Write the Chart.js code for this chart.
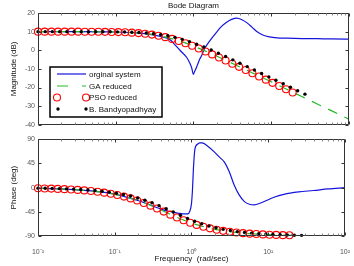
<!DOCTYPE html>
<html>
<head>
<meta charset="utf-8">
<script src="https://cdn.jsdelivr.net/npm/chart.js@4.4.1/dist/chart.umd.min.js"></script>
<style>
  body { margin: 0; background: #fff; }
  canvas { position: absolute; left: 0; }
  #mag { top: 0; }
  #phase { top: 132px; }
</style>
</head>
<body>
<canvas id="mag" width="354" height="132"></canvas>
<canvas id="phase" width="354" height="134"></canvas>
<script>
// original system
const origFreq  = [0.01, 0.03, 0.1, 0.2, 0.3, 0.4, 0.5, 0.6, 0.7, 0.82, 0.9, 0.95, 1.0, 1.03, 1.06, 1.11, 1.21, 1.28, 1.37, 1.63, 2.0, 2.3, 2.7, 3.1, 3.6, 4.2, 4.9, 5.7, 6.6, 7.8, 9.5, 11.9, 16, 25, 39, 60, 100];
const origMag   = [10.0, 10.0, 9.8, 9.2, 8.3, 7.1, 5.6, 2.2, -0.8, -3.9, -7.0, -9.5, -12.9, -11.6, -10.5, -8.5, -4.6, -2.7, 0.4, 5.2, 9.9, 12.8, 15.2, 16.6, 17.3, 16.4, 14.7, 12.3, 9.9, 8.2, 7.2, 6.7, 6.5, 6.3, 6.2, 6.1, 6.0];
const origPhase = [-1, -4, -12, -24, -33, -40, -44, -46, -48, -49, -49, -44, -30, -5, 35, 72, 81, 83, 83, 77, 66, 57, 47, 30, 5, -14, -26, -31, -32, -29, -24, -18, -12.6, -8, -5.4, -2.5, 0];

// GA reduced
const gaFreq  = [0.01, 0.0158, 0.0251, 0.0398, 0.0631, 0.1, 0.158, 0.251, 0.398, 0.631, 1, 1.585, 2.512, 3.981, 6.31, 10, 15.85, 25.12, 39.81, 63.1, 100];
const gaMag   = [10.0, 9.99, 9.99, 9.97, 9.91, 9.79, 9.49, 8.82, 7.49, 5.28, 2.26, -1.27, -5.07, -8.99, -12.96, -16.94, -20.94, -24.94, -28.94, -32.94, -36.94];
const gaPhase = [-1.3, -2.0, -3.2, -5.1, -8.0, -12.5, -19.4, -29.2, -41.5, -54.5, -65.8, -74.2, -79.8, -83.6, -85.9, -87.4, -88.4, -89.0, -89.4, -89.6, -89.7];

// PSO reduced
const psoFreq  = [0.0100, 0.0122, 0.0149, 0.0181, 0.0221, 0.0270, 0.0329, 0.0401, 0.0489, 0.0597, 0.0728, 0.0887, 0.108, 0.132, 0.161, 0.196, 0.239, 0.292, 0.356, 0.434, 0.530, 0.646, 0.788, 0.961, 1.17, 1.43, 1.74, 2.13, 2.59, 3.16, 3.86, 4.70, 5.74, 6.99, 8.53, 10.4, 12.7, 15.5, 18.9];
const psoMag   = [10.0, 10.0, 10.0, 9.99, 9.99, 9.98, 9.98, 9.96, 9.95, 9.92, 9.88, 9.83, 9.74, 9.63, 9.45, 9.21, 8.87, 8.41, 7.82, 7.05, 6.11, 5.01, 3.76, 2.39, 0.92, -0.63, -2.22, -3.86, -5.53, -7.21, -8.91, -10.61, -12.33, -14.05, -15.76, -17.48, -19.20, -20.93, -22.65];
const psoPhase = [-1.3, -1.6, -1.9, -2.4, -2.9, -3.5, -4.3, -5.2, -6.3, -7.7, -9.4, -11.4, -13.8, -16.7, -20.1, -24.0, -28.6, -33.6, -39.0, -44.6, -50.3, -55.7, -60.8, -65.4, -69.4, -72.9, -75.8, -78.3, -80.4, -82.1, -83.5, -84.7, -85.6, -86.4, -87.0, -87.6, -88.0, -88.4, -88.7];

// B. Bandyopadhyay
const bbFreq  = [0.0100, 0.0124, 0.0153, 0.0190, 0.0235, 0.0291, 0.0360, 0.0447, 0.0553, 0.0684, 0.0847, 0.105, 0.130, 0.161, 0.199, 0.247, 0.306, 0.378, 0.468, 0.579, 0.718, 0.889, 1.10, 1.36, 1.69, 2.09, 2.59, 3.21, 3.96, 4.91, 6.08, 7.53, 9.33, 11.5, 14.3, 17.7, 21.9, 27.2];
const bbMag   = [10.0, 10.0, 10.0, 10.0, 9.99, 9.99, 9.98, 9.97, 9.96, 9.94, 9.90, 9.85, 9.78, 9.67, 9.50, 9.26, 8.91, 8.42, 7.76, 6.92, 5.87, 4.64, 3.24, 1.73, 0.11, -1.59, -3.35, -5.14, -6.93, -8.76, -10.60, -12.45, -14.30, -16.13, -17.99, -19.85, -21.71, -23.56];
const bbPhase = [-1.0, -1.2, -1.5, -1.9, -2.4, -2.9, -3.6, -4.5, -5.5, -6.8, -8.5, -10.4, -12.8, -15.7, -19.3, -23.4, -28.2, -33.6, -39.4, -45.5, -51.5, -57.3, -62.6, -67.3, -71.3, -74.7, -77.6, -79.9, -81.8, -83.4, -84.6, -85.7, -86.5, -87.2, -87.7, -88.2, -88.5, -88.8];

const decades = [0.01, 0.1, 1, 10, 100];
const decadeLabels = ['10⁻²', '10⁻¹', '10⁰', '10¹', '10²'];

Chart.defaults.font.family = "'Liberation Sans', Arial, sans-serif";
Chart.defaults.animation = false;

const BLUE = 'rgb(20,20,220)';
const GREEN = 'rgb(40,185,40)';
const RED = 'rgb(255,0,0)';
const AXIS = '#333';
const LABEL = '#555';

function pts(xs, ys) {
  return xs.map((x, i) => ({ x: x, y: ys[i] }));
}

function datasets(which) {
  const m = which === 'mag';
  return [
    { label: 'orginal system', data: pts(origFreq, m ? origMag : origPhase), showLine: true, borderColor: BLUE,
      borderWidth: 1.2, pointRadius: 0, cubicInterpolationMode: 'monotone', order: 4 },
    { label: 'GA reduced', data: pts(gaFreq, m ? gaMag : gaPhase), showLine: true, borderColor: GREEN,
      borderWidth: 1.2, borderDash: [10, 8], pointRadius: 0, cubicInterpolationMode: 'monotone', order: 3 },
    { label: 'PSO reduced', data: pts(psoFreq, m ? psoMag : psoPhase), showLine: false, pointRadius: 3.5,
      pointBorderColor: RED, pointBackgroundColor: 'rgba(0,0,0,0)', pointBorderWidth: 1.1, clip: false, order: 2 },
    { label: 'B. Bandyopadhyay', data: pts(bbFreq, m ? bbMag : bbPhase), showLine: false, pointRadius: 1.7,
      pointBorderColor: '#000', pointBackgroundColor: '#000', pointBorderWidth: 0, clip: false, order: 1 }
  ];
}

// box + inward ticks, like the matlab axes
const frame = {
  id: 'frame',
  afterDatasetsDraw(chart) {
    const { ctx, chartArea: a, scales } = chart;
    const x = scales.x, y = scales.y;
    const L = Math.round(a.left) + 0.5, R = Math.round(a.right) - 0.5;
    const T = Math.round(a.top) + 0.5, B = Math.round(a.bottom) - 0.5;
    ctx.save();
    ctx.strokeStyle = AXIS;
    ctx.lineWidth = 1;
    ctx.beginPath();
    ctx.rect(L, T, R - L, B - T);
    y.ticks.forEach(t => {
      const py = Math.round(y.getPixelForValue(t.value)) + 0.5;
      ctx.moveTo(L, py); ctx.lineTo(L + 3, py);
      ctx.moveTo(R, py); ctx.lineTo(R - 3, py);
    });
    decades.forEach(d => {
      const px = Math.round(x.getPixelForValue(d)) + 0.5;
      ctx.moveTo(px, B); ctx.lineTo(px, B - 3);
      ctx.moveTo(px, T); ctx.lineTo(px, T + 3);
    });
    ctx.stroke();
    ctx.strokeStyle = '#888';
    ctx.beginPath();
    for (let d = 0; d < 4; d++) {
      for (let k = 2; k < 10; k++) {
        const px = Math.round(x.getPixelForValue(decades[d] * k)) + 0.5;
        ctx.moveTo(px, B); ctx.lineTo(px, B - 2);
        ctx.moveTo(px, T); ctx.lineTo(px, T + 2);
      }
    }
    ctx.stroke();
    ctx.restore();
  }
};

// legend box inside the magnitude axes
const boxLegend = {
  id: 'boxLegend',
  afterDraw(chart) {
    if (chart.canvas.id !== 'mag') return;
    const ctx = chart.ctx;
    const ds = chart.data.datasets;
    ctx.save();
    ctx.fillStyle = '#fff';
    ctx.fillRect(50, 67, 112, 50);
    ctx.strokeStyle = '#000';
    ctx.lineWidth = 1.5;
    ctx.strokeRect(50, 67, 112, 50);
    const rows = [74, 86, 97.5, 109];
    // line samples
    ctx.lineWidth = 1.2;
    ctx.strokeStyle = BLUE;
    ctx.beginPath(); ctx.moveTo(57, rows[0]); ctx.lineTo(86, rows[0]); ctx.stroke();
    ctx.strokeStyle = GREEN;
    ctx.setLineDash([11, 14]);
    ctx.beginPath(); ctx.moveTo(57, rows[1]); ctx.lineTo(86, rows[1]); ctx.stroke();
    ctx.setLineDash([]);
    // marker samples
    ctx.strokeStyle = RED;
    ctx.lineWidth = 1.1;
    [57, 86].forEach(px => {
      ctx.beginPath(); ctx.arc(px, rows[2], 3.5, 0, Math.PI * 2); ctx.stroke();
    });
    ctx.fillStyle = '#000';
    [58, 86].forEach(px => {
      ctx.beginPath(); ctx.arc(px, rows[3], 1.7, 0, Math.PI * 2); ctx.fill();
    });
    ctx.fillStyle = '#111';
    ctx.font = "8px 'Liberation Sans', Arial, sans-serif";
    ctx.textBaseline = 'middle';
    ds.forEach((d, i) => ctx.fillText(d.label, 89, rows[i] + 0.5));
    ctx.restore();
  }
};

function makeChart(id, which) {
  const m = which === 'mag';
  return new Chart(document.getElementById(id), {
    type: 'scatter',
    data: { datasets: datasets(which) },
    options: {
      responsive: false,
      layout: { padding: { left: 0, right: 5, top: 0, bottom: 0 } },
      plugins: {
        legend: { display: false },
        tooltip: { enabled: false },
        title: {
          display: m, text: 'Bode Diagram', color: '#111', fullSize: false,
          font: { size: 8, weight: 'normal' }, padding: { top: 1, bottom: 2.4 }
        }
      },
      scales: {
        x: {
          type: 'logarithmic', min: 0.01, max: 100,
          afterBuildTicks: s => { s.ticks = decades.map(v => ({ value: v })); },
          afterFit: s => { s.height = m ? 6 : 30; },
          grid: { display: false }, border: { display: false },
          ticks: {
            display: !m, autoSkip: false, maxRotation: 0, padding: 4, color: LABEL,
            font: { size: 7 }, callback: (v, i) => decadeLabels[i]
          },
          title: {
            display: !m, text: 'Frequency  (rad/sec)', color: '#111',
            font: { size: 8 }, padding: { top: 0, bottom: 2 }
          }
        },
        y: {
          min: m ? -40 : -90, max: m ? 20 : 90,
          afterFit: s => { s.width = 38; },
          grid: { display: false, drawTicks: false }, border: { display: false },
          ticks: { stepSize: m ? 10 : 45, padding: 3, color: LABEL, font: { size: 7 } },
          title: {
            display: true, text: m ? 'Magnitude (dB)' : 'Phase (deg)', color: '#111',
            font: { size: 8 }, padding: { top: 9, bottom: 0 }
          }
        }
      }
    },
    plugins: [frame, boxLegend]
  });
}

makeChart('mag', 'mag');
makeChart('phase', 'phase');
</script>
</body>
</html>
